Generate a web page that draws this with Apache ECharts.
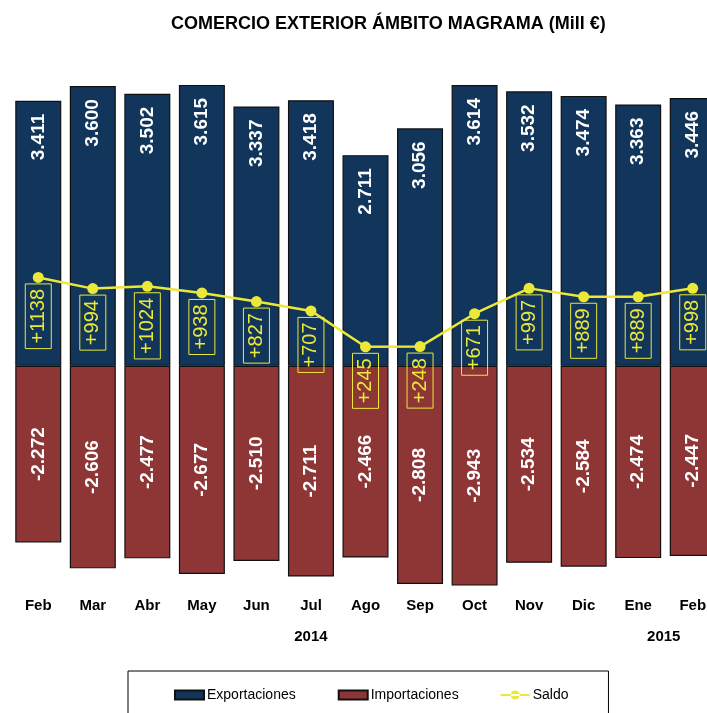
<!DOCTYPE html>
<html>
<head>
<meta charset="utf-8">
<script src="https://cdn.jsdelivr.net/npm/echarts@6/dist/echarts.min.js"></script>
<style>
  html, body { margin: 0; padding: 0; background: #fff; }
  #chart { width: 707px; height: 713px; }
</style>
</head>
<body>
<div id="chart"></div>
<script>
// datos (Mill €)
const meses = ['Feb', 'Mar', 'Abr', 'May', 'Jun', 'Jul', 'Ago', 'Sep', 'Oct', 'Nov', 'Dic', 'Ene', 'Feb'];
const anios = ['', '', '', '', '', '2014', '', '', '', '', '', '', '2015'];
const exportaciones = [3411, 3600, 3502, 3615, 3337, 3418, 2711, 3056, 3614, 3532, 3474, 3363, 3446];
const importaciones = [-2272, -2606, -2477, -2677, -2510, -2711, -2466, -2808, -2943, -2534, -2584, -2474, -2447];
const saldo = [1138, 994, 1024, 938, 827, 707, 245, 248, 671, 997, 889, 889, 998];

const AZUL = '#12355b';
const ROJO = '#8e3636';
const AMARILLO = '#ebe83a';
const FUENTE = 'Liberation Sans';

// separador de miles con punto
function miles(v) {
  return String(v).replace(/\B(?=(\d{3})+(?!\d))/g, '.');
}

const chart = echarts.init(document.getElementById('chart'));

const option = {
  animation: false,
  textStyle: { fontFamily: FUENTE },
  title: {
    text: 'COMERCIO EXTERIOR ÁMBITO MAGRAMA (Mill €)',
    left: 166,
    top: 10,
    textStyle: { fontFamily: FUENTE, fontSize: 18, fontWeight: 'bold', color: '#000' }
  },
  legend: {
    left: 128,
    top: 671,
    width: 481,
    padding: [17, 40, 20, 46],
    borderColor: '#000',
    borderWidth: 1,
    itemWidth: 29,
    itemHeight: 9,
    itemGap: 42,
    textStyle: { fontFamily: FUENTE, fontSize: 14, color: '#000', padding: [0, 0, 0, -2] },
    data: [
      { name: 'Exportaciones', icon: 'rect' },
      { name: 'Importaciones', icon: 'rect' },
      // línea con punto
      { name: 'Saldo', icon: 'path://M0,3.5L29,3.5L29,5.5L0,5.5Z M10,4.5a4.5,4.5 0 1,0 9,0a4.5,4.5 0 1,0 -9,0Z' }
    ]
  },
  grid: { left: 11, top: 55, width: 709, bottom: 128, outerBoundsMode: 'none', containLabel: false },
  xAxis: [
    {
      type: 'category',
      data: meses,
      position: 'bottom',
      axisLine: { show: false },
      axisTick: { show: false },
      axisLabel: {
        interval: 0,
        margin: 13,
        fontFamily: FUENTE,
        fontSize: 15,
        fontWeight: 'bold',
        color: '#000'
      }
    },
    {
      type: 'category',
      data: anios,
      position: 'bottom',
      offset: 31,
      axisLine: { show: false },
      axisTick: { show: false },
      axisLabel: {
        interval: 0,
        margin: 13,
        fontFamily: FUENTE,
        fontSize: 15,
        fontWeight: 'bold',
        color: '#000',
        formatter: function (v, i) {
          return i === anios.length - 1 ? '{r|' + v + '}' : v;
        },
        rich: {
          r: { fontFamily: FUENTE, fontSize: 15, fontWeight: 'bold', color: '#000', padding: [0, 58, 0, 0] }
        }
      }
    }
  ],
  yAxis: {
    type: 'value',
    min: -2820,
    max: 4000,
    show: false,
    splitLine: { show: false }
  },
  series: [
    {
      name: 'Exportaciones',
      type: 'bar',
      stack: 'comercio',
      barWidth: 46,
      data: exportaciones,
      itemStyle: { color: AZUL, borderColor: '#111', borderWidth: 1.2 },
      label: {
        show: true,
        position: 'insideTop',
        distance: 13,
        rotate: 90,
        align: 'right',
        verticalAlign: 'middle',
        fontFamily: FUENTE,
        fontSize: 19,
        fontWeight: 'bold',
        color: '#fff',
        formatter: p => miles(p.value)
      }
    },
    {
      name: 'Importaciones',
      type: 'bar',
      stack: 'comercio',
      barWidth: 46,
      data: importaciones,
      itemStyle: { color: ROJO, borderColor: '#111', borderWidth: 1.2 },
      label: {
        show: true,
        position: 'inside',
        rotate: 90,
        align: 'center',
        verticalAlign: 'middle',
        fontFamily: FUENTE,
        fontSize: 19,
        fontWeight: 'bold',
        color: '#fff',
        formatter: p => '-' + miles(-p.value)
      }
    },
    {
      name: 'Saldo',
      type: 'line',
      data: saldo,
      z: 5,
      symbol: 'circle',
      symbolSize: 11,
      lineStyle: { color: AMARILLO, width: 2.5 },
      itemStyle: { color: AMARILLO },
      label: {
        show: true,
        position: 'bottom',
        distance: 1,
        rotate: 90,
        align: 'right',
        verticalAlign: 'middle',
        fontFamily: FUENTE,
        fontSize: 20,
        lineHeight: 20,
        color: AMARILLO,
        borderColor: AMARILLO,
        borderWidth: 1,
        padding: [3, 5],
        formatter: p => '+' + p.value
      }
    }
  ]
};

chart.setOption(option);
window.addEventListener('resize', () => chart.resize());
</script>
</body>
</html>
